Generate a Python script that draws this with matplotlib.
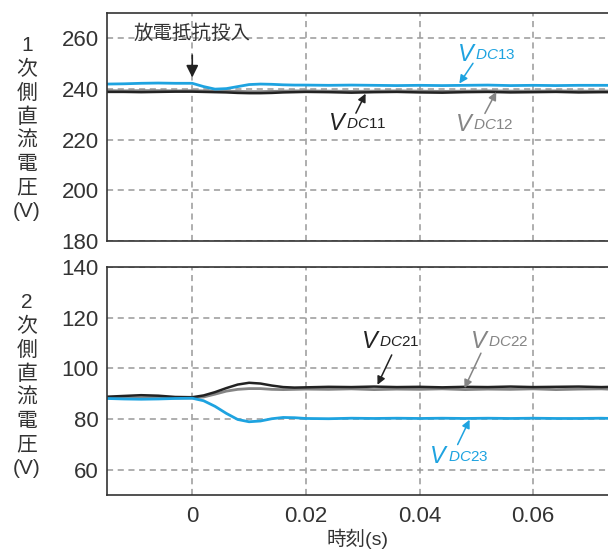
import matplotlib
matplotlib.use('Agg')
import matplotlib.pyplot as plt

plt.rcParams['font.family'] = ['Liberation Sans', 'Noto Sans CJK JP', 'DejaVu Sans']
plt.rcParams['mathtext.fontset'] = 'custom'
plt.rcParams['mathtext.rm'] = 'Liberation Sans'
plt.rcParams['mathtext.it'] = 'Liberation Sans:italic'

# time axis (s)
t = [-0.015, -0.012, -0.009, -0.006, -0.003, 0.0, 0.002, 0.004, 0.006, 0.008,
     0.010, 0.012, 0.014, 0.016, 0.018, 0.020, 0.024, 0.028, 0.032, 0.036,
     0.040, 0.044, 0.048, 0.052, 0.056, 0.060, 0.064, 0.068, 0.072, 0.074]

# primary side DC voltage (V)
v_dc11 = [238.9, 238.9, 238.8, 238.9, 239.0, 239.0, 238.9, 238.8, 238.7, 238.5,
          238.4, 238.4, 238.5, 238.7, 238.8, 238.9, 238.8, 238.6, 238.8, 238.9,
          238.7, 238.6, 238.8, 238.9, 238.7, 238.8, 238.9, 238.7, 238.8, 238.8]
v_dc12 = [239.4, 239.3, 239.4, 239.4, 239.3, 239.4, 239.3, 239.3, 239.2, 239.1,
          239.0, 239.0, 239.1, 239.2, 239.3, 239.3, 239.2, 239.1, 239.2, 239.3,
          239.2, 239.1, 239.2, 239.3, 239.2, 239.2, 239.3, 239.2, 239.2, 239.3]
v_dc13 = [242.0, 242.1, 242.3, 242.4, 242.3, 242.3, 241.0, 240.0, 240.2, 241.0,
          241.8, 242.0, 241.9, 241.7, 241.6, 241.6, 241.5, 241.6, 241.5, 241.4,
          241.5, 241.4, 241.5, 241.6, 241.4, 241.5, 241.4, 241.5, 241.5, 241.5]

# secondary side DC voltage (V)
v_dc21 = [88.8, 89.1, 89.4, 89.2, 88.7, 88.6, 89.3, 90.6, 92.2, 93.6,
          94.3, 94.0, 93.2, 92.6, 92.4, 92.5, 92.7, 92.6, 92.8, 92.6,
          92.7, 92.5, 92.7, 92.6, 92.8, 92.6, 92.7, 92.8, 92.6, 92.7]
v_dc22 = [88.4, 88.3, 88.4, 88.5, 88.3, 88.3, 88.7, 89.8, 91.0, 91.7,
          92.0, 92.0, 91.7, 91.6, 91.7, 91.8, 91.7, 91.9, 91.6, 91.8,
          91.7, 91.9, 91.6, 91.8, 91.7, 91.9, 91.6, 91.8, 91.9, 91.7]
v_dc23 = [88.1, 87.9, 87.8, 87.9, 88.1, 88.2, 87.2, 85.0, 82.2, 79.8,
          78.9, 79.2, 80.1, 80.6, 80.5, 80.2, 80.1, 80.3, 80.2, 80.3,
          80.2, 80.3, 80.2, 80.3, 80.2, 80.3, 80.2, 80.2, 80.3, 80.2]

x_ticks = [0, 0.02, 0.04, 0.06]
x_ticklabels = ['0', '0.02', '0.04', '0.06']
y1_ticks = [180, 200, 220, 240, 260]
y2_ticks = [60, 80, 100, 120, 140]

BLUE = '#1ea3e0'
GRAY = '#858585'
BLACK = '#222222'
TXT = '#333333'

fig = plt.figure(figsize=(6.08, 5.49), dpi=100)
ax1 = fig.add_axes([0.176, 0.561, 0.83, 0.415])
ax2 = fig.add_axes([0.176, 0.0985, 0.83, 0.415])

for ax in (ax1, ax2):
    ax.set_xlim(-0.015, 0.0738)
    ax.set_xticks(x_ticks)
    ax.grid(True, color='#999999', linestyle=(0, (4, 3)), linewidth=1.1)
    ax.tick_params(length=0, labelsize=16, colors=TXT, pad=6)
    for s in ('left', 'bottom', 'top'):
        ax.spines[s].set_color(TXT)
        ax.spines[s].set_linewidth(1.2)
    ax.spines['right'].set_visible(False)

ax1.set_ylim(180, 270)
ax1.set_yticks(y1_ticks)
ax1.tick_params(axis='x', labelbottom=False)
ax2.set_ylim(50, 140)
ax2.set_yticks(y2_ticks)
ax2.set_xticklabels(x_ticklabels)
ax2.tick_params(axis='x', pad=8)

ax1.plot(t, v_dc12, color=GRAY, lw=2)
ax1.plot(t, v_dc11, color=BLACK, lw=1.8)
ax1.plot(t, v_dc13, color=BLUE, lw=2)
ax2.plot(t, v_dc22, color=GRAY, lw=2)
ax2.plot(t, v_dc21, color=BLACK, lw=1.8)
ax2.plot(t, v_dc23, color=BLUE, lw=2)

# event annotation
ax1.annotate('放電抵抗投入', xy=(0, 244.6), xytext=(0, 262), ha='center', va='center',
             fontsize=14, color=TXT,
             arrowprops=dict(arrowstyle='-|>', color=BLACK, lw=1.2,
                             mutation_scale=18, shrinkA=7, shrinkB=0))


def vlabel(ax, pos, head, tail, sub, color):
    ax.annotate('', xy=head, xytext=tail,
                arrowprops=dict(arrowstyle='-|>', color=color, lw=1.1,
                                mutation_scale=12, shrinkA=0, shrinkB=0))
    v = ax.text(pos[0], pos[1], 'V', fontsize=17, style='italic', color=color,
                ha='left', va='baseline')
    ax.annotate('$\\mathit{DC}$' + sub, xy=(1.0, 0.0), xycoords=v,
                xytext=(1, 3), textcoords='offset points',
                fontsize=11, color=color, ha='left', va='bottom')


vlabel(ax1, (0.0467, 251.1), (0.0470, 242.2), (0.0494, 250.2), '13', BLUE)
vlabel(ax1, (0.0241, 223.8), (0.0305, 238.2), (0.0288, 230.5), '11', BLACK)
vlabel(ax1, (0.0464, 223.5), (0.0535, 238.9), (0.0515, 230.4), '12', GRAY)
vlabel(ax2, (0.0299, 108.0), (0.0326, 93.5), (0.0351, 105.3), '21', BLACK)
vlabel(ax2, (0.0490, 108.0), (0.0479, 92.2), (0.0508, 106.0), '22', GRAY)
vlabel(ax2, (0.0419, 62.6), (0.0488, 79.7), (0.0467, 69.9), '23', BLUE)

fig.text(0.0444, 0.766, '1\n次\n側\n直\n流\n電\n圧\n(V)', ha='center', va='center',
         fontsize=15, color=TXT, linespacing=1.3)
fig.text(0.0444, 0.298, '2\n次\n側\n直\n流\n電\n圧\n(V)', ha='center', va='center',
         fontsize=15, color=TXT, linespacing=1.3)
fig.text(0.588, 0.018, '時刻(s)', ha='center', va='center', fontsize=14, color=TXT)

fig.savefig('out.png', dpi=100)
